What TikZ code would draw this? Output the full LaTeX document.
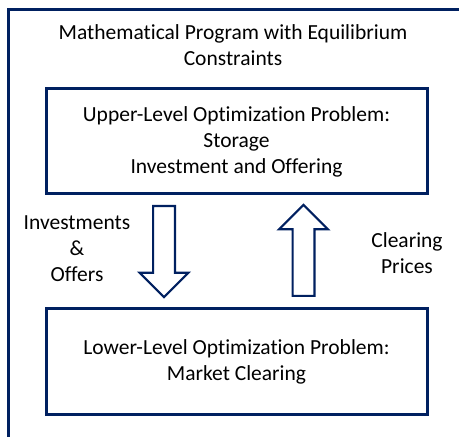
\documentclass[tikz,border=0pt]{standalone}
\usepackage{fontspec}
\setmainfont[Ligatures=NoCommon]{Carlito}
\usetikzlibrary{shapes.arrows, positioning}
\definecolor{navy}{RGB}{0,32,96}
\tikzset{
  lvl/.style={rectangle, draw=navy, line width=3pt, fill=white,
    minimum width=381pt, minimum height=105pt, align=center,
    font=\fontsize{21.5}{26}\selectfont, inner sep=0pt},
  lbl/.style={align=center, font=\fontsize{21.5}{26}\selectfont, inner sep=0pt},
  barr/.style={single arrow, draw=navy, line width=2.2pt, fill=white,
    minimum height=91pt, minimum width=47pt, inner sep=9.8pt,
    single arrow head extend=13.5pt, single arrow tip angle=90,
    anchor=tail},
}
\begin{document}
\begin{tikzpicture}[x=1pt, y=1pt]
  \useasboundingbox (0,0) rectangle (459,437);
  % MPEC frame (runs off the page)
  \begin{scope}
    \clip (0,0) rectangle (459,437);
    \draw[navy, line width=3pt] (8,-20) -- (8,427.5) -- (480,427.5);
  \end{scope}
  \node[lbl] (title) at (233,392)
       {Mathematical Program with Equilibrium\\Constraints};

  % Upper level
  \node[lvl] (upper) at (236.5,295.5)
       {Upper-Level Optimization Problem:\\Storage\\Investment and Offering};

  % Lower level
  \node[lvl, minimum height=106pt] (lower) at (236.5,75)
       {Lower-Level Optimization Problem:\\Market Clearing};

  % Block arrows between the levels
  \node[barr, rotate=-90] (down) at (164,232) {};
  \node[barr, rotate=90] (up) at (303.5,140) {};

  % Arrow labels
  \node[lbl] (invoff) at (77,188) {Investments\\\&\\Offers};
  \node[lbl] (prices) at (407,183.5) {Clearing\\Prices};
\end{tikzpicture}
\end{document}
